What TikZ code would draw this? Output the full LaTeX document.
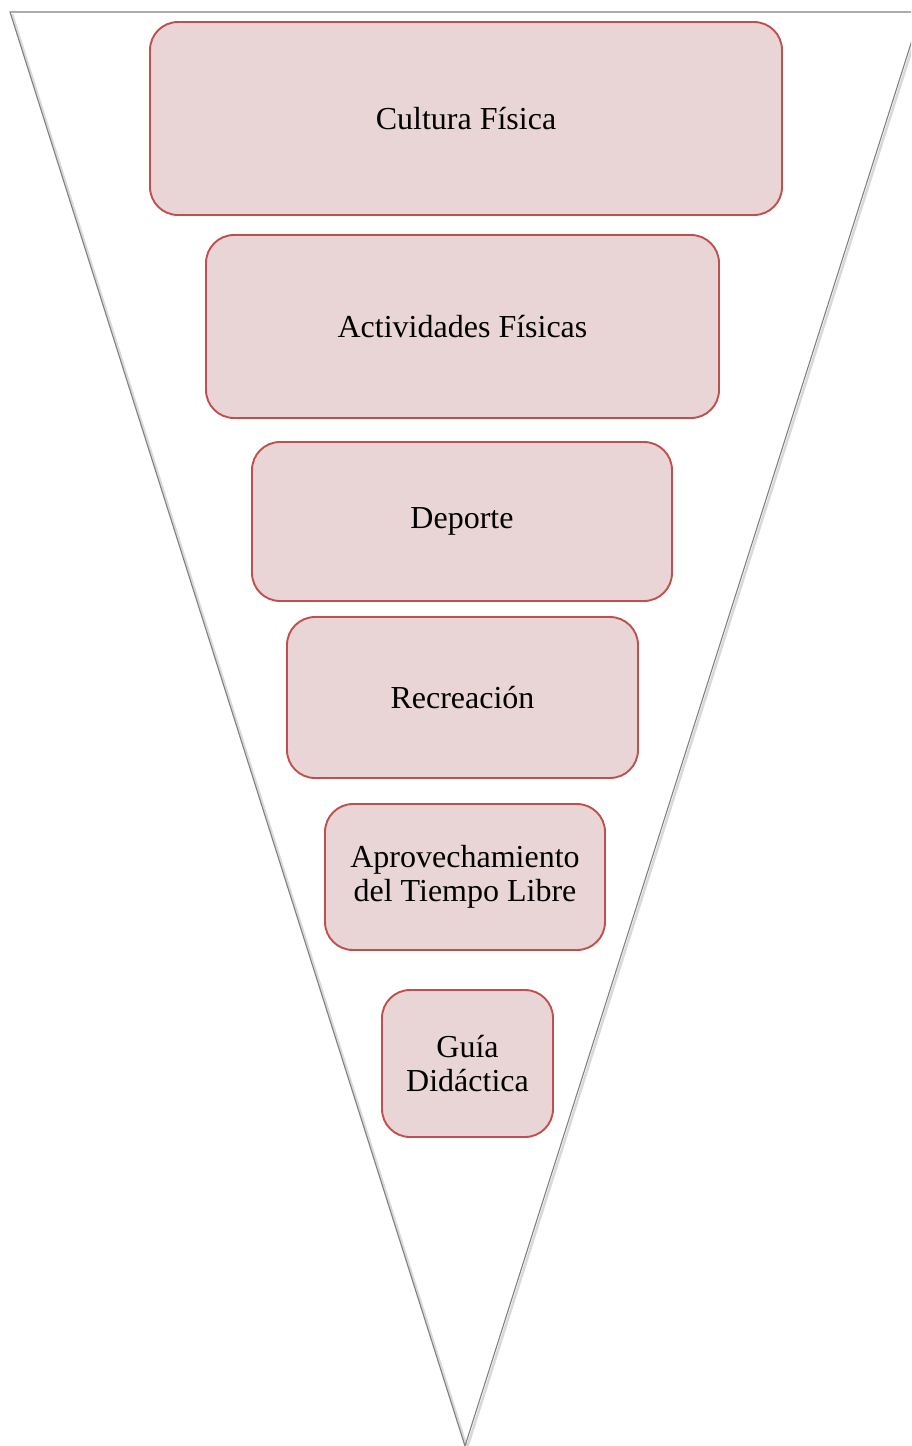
\documentclass[tikz,border=0pt]{standalone}
\usepackage{fontspec}
\setmainfont{Liberation Serif}
\usetikzlibrary{shadows}
\definecolor{boxfill}{HTML}{E9D5D5}
\definecolor{boxline}{HTML}{C0504D}
\definecolor{triline}{HTML}{808080}
\begin{document}
\begin{tikzpicture}[x=1pt,y=-1pt,
  level/.style={draw=boxline, fill=boxfill, line width=1.9pt, rounded corners=28pt,
    align=center, inner sep=0pt, font=\fontsize{32}{34}\selectfont, text=black},
  tri/.style={draw=triline, line width=1.1pt, line join=miter}]
\useasboundingbox (0,0) rectangle (911,1446);
\clip (0,0) rectangle (911,1446);
\coordinate (tl) at (10,12);
\coordinate (tr) at (921,12);
\coordinate (ap) at (465,1446);
\draw[draw=black!15, line width=2.5pt] ([xshift=2pt,yshift=-2pt]tl) -- ([xshift=2pt,yshift=-2pt]ap) -- ([xshift=2pt,yshift=-2pt]tr);
\draw[tri] (tl) -- (tr) -- (ap) -- cycle;
\node[level, minimum width=632pt, minimum height=193pt] (n1) at (466,118.5) {Cultura Física};
\node[level, minimum width=513pt, minimum height=183pt] (n2) at (462.5,326.5) {Actividades Físicas};
\node[level, minimum width=420pt, minimum height=159pt] (n3) at (462,521.5) {Deporte};
\node[level, minimum width=351pt, minimum height=161pt] (n4) at (462.5,697.5) {Recreación};
\node[level, minimum width=280pt, minimum height=146pt] (n5) at (465,877) {Aprovechamiento\\del Tiempo Libre};
\node[level, minimum width=171pt, minimum height=147pt] (n6) at (467.5,1063.5) {Guía\\Didáctica};
\end{tikzpicture}
\end{document}
